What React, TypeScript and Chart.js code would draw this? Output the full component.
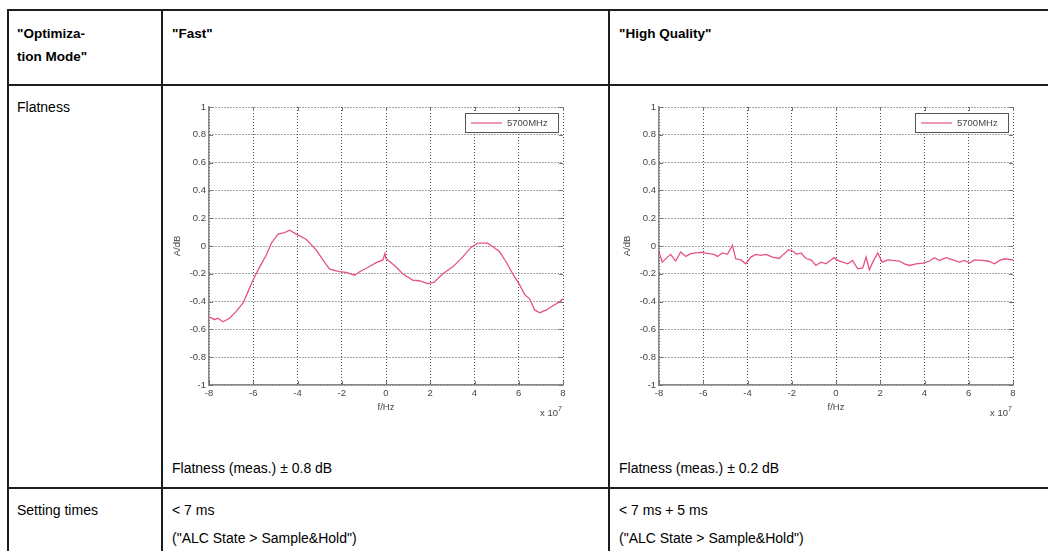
import React, { useEffect, useRef } from "react";
import { Chart, registerables } from "chart.js";

Chart.register(...registerables);

// ---------- data ----------
const fastFreq = [
  -8.0, -7.74, -7.6, -7.37, -7.07, -6.77, -6.46, -6.24, -6.01, -5.71, -5.41, -5.18, -4.88, -4.58, -4.36,
  -4.05, -3.6, -3.15, -2.85, -2.55, -2.1, -1.8, -1.42, -1.19, -0.89, -0.44, -0.14, -0.05, 0.0, 0.15,
  0.45, 0.75, 1.2, 1.5, 1.88, 2.18, 2.57, 3.02, 3.46, 3.84, 4.14, 4.59, 4.83, 5.13, 5.43, 5.73, 6.04,
  6.27, 6.49, 6.72, 6.95, 7.25, 7.55, 7.85, 8.0,
];
const fastLevel = [
  -0.51, -0.53, -0.52, -0.545, -0.52, -0.47, -0.41, -0.33, -0.245, -0.15, -0.065, 0.02, 0.085, 0.097, 0.114,
  0.085, 0.047, -0.03, -0.1, -0.166, -0.185, -0.19, -0.21, -0.185, -0.16, -0.12, -0.1, -0.054, -0.09, -0.11,
  -0.15, -0.2, -0.245, -0.25, -0.27, -0.26, -0.2, -0.15, -0.08, -0.01, 0.02, 0.02, -0.005, -0.04, -0.115,
  -0.2, -0.28, -0.35, -0.38, -0.46, -0.48, -0.46, -0.43, -0.4, -0.38,
];

const hqFreq = [
  -8.0, -7.85, -7.62, -7.47, -7.25, -7.02, -6.79, -6.57, -6.34, -6.07, -5.74, -5.51, -5.36, -5.13, -4.91,
  -4.68, -4.53, -4.3, -4.08, -3.85, -3.62, -3.4, -3.17, -2.87, -2.57, -2.34, -2.14, -1.96, -1.78, -1.58,
  -1.36, -1.13, -0.91, -0.68, -0.45, -0.23, -0.08, 0.08, 0.3, 0.53, 0.75, 0.98, 1.21, 1.36, 1.51, 1.66,
  1.89, 2.08, 2.34, 2.57, 2.87, 3.09, 3.32, 3.62, 3.92, 4.23, 4.45, 4.68, 4.98, 5.28, 5.58, 5.81, 6.04,
  6.26, 6.57, 6.87, 7.17, 7.4, 7.62, 8.0,
];
const hqLevel = [
  -0.043, -0.116, -0.08, -0.06, -0.108, -0.043, -0.075, -0.055, -0.05, -0.046, -0.055, -0.06, -0.075, -0.05, -0.06,
  0.005, -0.092, -0.1, -0.128, -0.08, -0.06, -0.067, -0.06, -0.08, -0.09, -0.055, -0.027, -0.036, -0.06, -0.05,
  -0.09, -0.1, -0.14, -0.116, -0.128, -0.1, -0.084, -0.104, -0.116, -0.128, -0.104, -0.164, -0.157, -0.08, -0.171, -0.116,
  -0.05, -0.116, -0.1, -0.104, -0.108, -0.128, -0.14, -0.128, -0.123, -0.108, -0.084, -0.104, -0.084, -0.1, -0.116, -0.104, -0.123,
  -0.1, -0.104, -0.108, -0.128, -0.104, -0.092, -0.1,
];

const xTickValues = [-8, -6, -4, -2, 0, 2, 4, 6, 8];
const xTickLabels = ["-8", "-6", "-4", "-2", "0", "2", "4", "6", "8"];
const yTickValues = [-1, -0.8, -0.6, -0.4, -0.2, 0, 0.2, 0.4, 0.6, 0.8, 1];
const yTickLabels = ["-1", "-0.8", "-0.6", "-0.4", "-0.2", "0", "0.2", "0.4", "0.6", "0.8", "1"];
const seriesLabel = "5700MHz";
const xAxisTitle = "f/Hz";
const yAxisTitle = "A/dB";
const xExponentBase = "x 10";
const xExponentPower = "7";

// ---------- styles ----------
const LINE_COLOR = "#e6537f";
const CHART_FONT = "'Liberation Sans', Arial, sans-serif";
const TEXT_FONT = "'Liberation Sans', Arial, sans-serif";
const LABEL_COLOR = "#444";

const overlayPlugin = {
  id: "overlay",
  afterDraw(chart: any) {
    const { ctx, chartArea: a, scales } = chart;
    ctx.save();
    // inward tick marks (MATLAB style)
    ctx.strokeStyle = "#777";
    ctx.lineWidth = 1;
    ctx.beginPath();
    scales.x.ticks.forEach((t: any) => {
      const px = Math.round(scales.x.getPixelForValue(t.value)) + 0.5;
      ctx.moveTo(px, a.bottom);
      ctx.lineTo(px, a.bottom - 4);
      ctx.moveTo(px, a.top);
      ctx.lineTo(px, a.top + 4);
    });
    scales.y.ticks.forEach((t: any) => {
      const py = Math.round(scales.y.getPixelForValue(t.value)) + 0.5;
      ctx.moveTo(a.left, py);
      ctx.lineTo(a.left + 4, py);
      ctx.moveTo(a.right, py);
      ctx.lineTo(a.right - 4, py);
    });
    ctx.stroke();
    // legend box (inside plot, top-right)
    const bw = 93;
    const bh = 19;
    const bx = a.right - bw - 5;
    const by = a.top + 6;
    ctx.fillStyle = "#ffffff";
    ctx.fillRect(bx, by, bw, bh);
    ctx.strokeStyle = "#555";
    ctx.lineWidth = 1;
    ctx.strokeRect(bx + 0.5, by + 0.5, bw, bh);
    ctx.strokeStyle = LINE_COLOR;
    ctx.lineWidth = 1.2;
    ctx.beginPath();
    ctx.moveTo(bx + 6, by + bh / 2 + 0.5);
    ctx.lineTo(bx + 37, by + bh / 2 + 0.5);
    ctx.stroke();
    ctx.fillStyle = LABEL_COLOR;
    ctx.font = `9.5px ${CHART_FONT}`;
    ctx.textBaseline = "middle";
    ctx.textAlign = "left";
    ctx.fillText(seriesLabel, bx + 42, by + bh / 2 + 1);
    // exponent label
    ctx.textAlign = "right";
    ctx.font = `9.5px ${CHART_FONT}`;
    ctx.fillText(xExponentBase, a.right - 5, a.bottom + 28);
    ctx.font = `7px ${CHART_FONT}`;
    ctx.fillText(xExponentPower, a.right - 1, a.bottom + 24);
    ctx.restore();
  },
};

function FlatnessChart(props: { freq: number[]; level: number[]; left: number; top: number }) {
  const ref = useRef<HTMLCanvasElement | null>(null);
  useEffect(() => {
    if (!ref.current) return;
    const points = props.freq.map((f, i) => ({ x: f, y: props.level[i] }));
    const gridStyle = {
      color: "rgba(60,60,60,0.9)",
      lineWidth: 1,
      drawTicks: false,
    };
    const chart = new Chart(ref.current, {
      type: "line",
      data: {
        datasets: [
          {
            label: seriesLabel,
            data: points,
            borderColor: LINE_COLOR,
            borderWidth: 1.3,
            pointRadius: 0,
            tension: 0,
            fill: false,
          },
        ],
      },
      options: {
        animation: false,
        responsive: false,
        devicePixelRatio: 1,
        parsing: false as any,
        layout: { padding: { left: 0, right: 12, top: 12, bottom: 0 } },
        plugins: { legend: { display: false }, tooltip: { enabled: false } },
        scales: {
          x: {
            type: "linear",
            min: -8,
            max: 8,
            afterBuildTicks: (s: any) => {
              s.ticks = xTickValues.map((v) => ({ value: v }));
            },
            afterFit: (s: any) => {
              s.height = 35;
            },
            ticks: {
              callback: (_v: any, i: number) => xTickLabels[i],
              font: { size: 9.5, family: CHART_FONT },
              color: LABEL_COLOR,
              padding: 3,
              maxRotation: 0,
            },
            grid: gridStyle,
            border: { display: true, color: "#888", width: 1.5, dash: [1, 2] },
            title: {
              display: true,
              text: xAxisTitle,
              font: { size: 9.5, family: CHART_FONT },
              color: LABEL_COLOR,
              padding: { top: 0, bottom: 7 },
            },
          },
          y: {
            type: "linear",
            min: -1,
            max: 1,
            afterBuildTicks: (s: any) => {
              s.ticks = yTickValues.map((v) => ({ value: v }));
            },
            afterFit: (s: any) => {
              s.width = 39;
            },
            ticks: {
              callback: (_v: any, i: number) => yTickLabels[i],
              font: { size: 9.5, family: CHART_FONT },
              color: LABEL_COLOR,
              padding: 3,
            },
            grid: gridStyle,
            border: { display: true, color: "#888", width: 1.5, dash: [1, 2] },
            title: {
              display: true,
              text: yAxisTitle,
              font: { size: 9.5, family: CHART_FONT },
              color: LABEL_COLOR,
              padding: { top: 2, bottom: 0 },
            },
          },
        },
      },
      plugins: [overlayPlugin],
    } as any);
    return () => chart.destroy();
  }, []);
  return (
    <canvas
      ref={ref}
      width={405}
      height={325}
      style={{ position: "absolute", left: props.left, top: props.top, width: 405, height: 325 }}
    />
  );
}

const LINE = "#1e1e1e";

function HLine(p: { y: number }) {
  return <div style={{ position: "absolute", left: 7, right: 0, top: p.y - 1, height: 2, background: LINE }} />;
}
function VLine(p: { x: number }) {
  return <div style={{ position: "absolute", left: p.x - 1, top: 9, bottom: 0, width: 2, background: LINE }} />;
}
function Txt(p: { x: number; y: number; bold?: boolean; size: number; children: React.ReactNode }) {
  const lh = Math.round(p.size * 1.2);
  return (
    <div
      style={{
        position: "absolute",
        left: p.x,
        top: p.y - lh / 2,
        lineHeight: lh + "px",
        fontSize: p.size,
        fontWeight: p.bold ? 700 : 400,
        fontFamily: TEXT_FONT,
        color: "#000",
        whiteSpace: "nowrap",
      }}
    >
      {p.children}
    </div>
  );
}

export default function App() {
  return (
    <div
      style={{
        position: "fixed",
        left: 0,
        top: 0,
        width: 1048,
        height: 551,
        overflow: "hidden",
        background: "#fff",
      }}
    >
      <HLine y={10} />
      <HLine y={85} />
      <HLine y={488} />
      <VLine x={8} />
      <VLine x={162} />
      <VLine x={609} />

      <Txt x={17} y={34} bold size={13.5}>"Optimiza-</Txt>
      <Txt x={17} y={57} bold size={13.5}>tion Mode"</Txt>
      <Txt x={172} y={34} bold size={13.5}>"Fast"</Txt>
      <Txt x={619} y={34} bold size={13.5}>"High Quality"</Txt>

      <Txt x={17} y={107} size={14}>Flatness</Txt>
      <FlatnessChart freq={fastFreq} level={fastLevel} left={170} top={95} />
      <FlatnessChart freq={hqFreq} level={hqLevel} left={620} top={95} />
      <Txt x={172} y={468} size={14}>Flatness (meas.) ± 0.8 dB</Txt>
      <Txt x={619} y={468} size={14}>Flatness (meas.) ± 0.2 dB</Txt>

      <Txt x={17} y={510} size={14}>Setting times</Txt>
      <Txt x={172} y={510} size={14}>&lt; 7 ms</Txt>
      <Txt x={619} y={510} size={14}>&lt; 7 ms + 5 ms</Txt>
      <Txt x={172} y={538} size={14}>("ALC State &gt; Sample&amp;Hold")</Txt>
      <Txt x={619} y={538} size={14}>("ALC State &gt; Sample&amp;Hold")</Txt>
    </div>
  );
}
